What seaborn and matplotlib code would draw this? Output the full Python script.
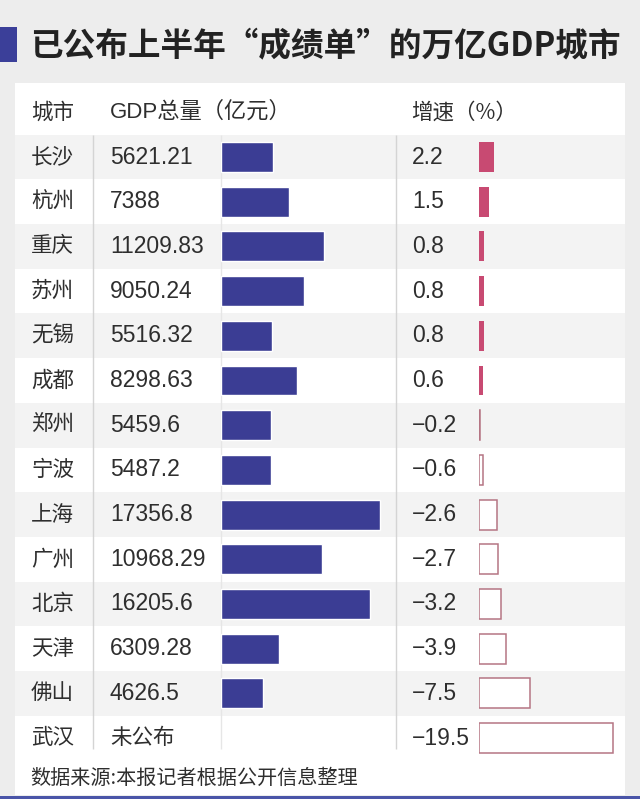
import numpy as np
import pandas as pd
import matplotlib
matplotlib.use("Agg")
import matplotlib.pyplot as plt
import seaborn as sns
from matplotlib.patches import Rectangle

cities = ["长沙", "杭州", "重庆", "苏州", "无锡", "成都", "郑州", "宁波",
          "上海", "广州", "北京", "天津", "佛山", "武汉"]
gdp = [5621.21, 7388, 11209.83, 9050.24, 5516.32, 8298.63, 5459.6, 5487.2,
       17356.8, 10968.29, 16205.6, 6309.28, 4626.5, np.nan]
gdp_text = ["5621.21", "7388", "11209.83", "9050.24", "5516.32", "8298.63",
            "5459.6", "5487.2", "17356.8", "10968.29", "16205.6", "6309.28",
            "4626.5", "未公布"]
growth = [2.2, 1.5, 0.8, 0.8, 0.8, 0.6, -0.2, -0.6, -2.6, -2.7, -3.2, -3.9,
          -7.5, -19.5]

title = "已公布上半年“成绩单”的万亿GDP城市"
header = ["城市", "GDP总量（亿元）", "增速（%）"]
source = "数据来源:本报记者根据公开信息整理"

BLUE = "#3b3d94"
PINK = "#c84a72"
EDGE = "#b57584"
TXT = "#2e2e2e"

W, H = 640, 799
sns.set_theme(style="white")
CJK = ["Noto Sans CJK SC", "DejaVu Sans"]
LAT = ["Liberation Sans", "Noto Sans CJK SC", "DejaVu Sans"]
plt.rcParams["font.family"] = CJK

fig = plt.figure(figsize=(6.4, 7.99), dpi=100, facecolor="#ededed")


def box(x0, y0, x1, y1):
    return [x0 / W, 1 - y1 / H, (x1 - x0) / W, (y1 - y0) / H]


# white card
fig.patches.append(Rectangle((15 / W, 1 - 795 / H), 610 / W, (795 - 83) / H,
                             transform=fig.transFigure, facecolor="white",
                             edgecolor="none", zorder=-1))
# title accent block
fig.patches.append(Rectangle((0, 1 - 62 / H), 17 / W, 35 / H,
                             transform=fig.transFigure, facecolor="#3b3f99",
                             edgecolor="none", zorder=-1))
fig.text(30 / W, 1 - 47 / H, title, fontsize=23.5, fontweight="bold",
         color="#222222", va="center", ha="left", family=CJK)
# bottom line
fig.patches.append(Rectangle((0, 0), 1, 3 / H, transform=fig.transFigure,
                             facecolor="#4a55a8", edgecolor="none", zorder=-1))

row0, step = 157, 44.7
top = row0 - 1.5 * step
bot = row0 + 13.5 * step
n = len(cities)

ax_bg = fig.add_axes(box(15, top, 625, bot))
ax_bg.set_xlim(15, 625)
ax_bg.set_ylim(n - 0.5, -1.5)
ax_bg.axis("off")
for i in range(0, n, 2):
    ax_bg.axhspan(i - 0.5, i + 0.5, color="#f3f3f3", lw=0, zorder=0)
ax_bg.vlines([93, 396], -0.5, 13.25, color="#d4d4d4", lw=1, zorder=1)
ax_bg.vlines([221], -0.5, 13.25, color="#e6e6e6", lw=1, zorder=1)

fs = 15.5
fl = 16.5
ax_bg.text(31, -1, header[0], va="center", ha="left", fontsize=fs, color=TXT)
ax_bg.text(110, -1, header[1], va="center", ha="left", fontsize=fl - 0.5,
           color=TXT, family=LAT)
ax_bg.text(411, -1, header[2], va="center", ha="left", fontsize=fs, color=TXT)
for i in range(n):
    ax_bg.text(31, i, cities[i], va="center", ha="left", fontsize=fs, color=TXT)
    if np.isnan(gdp[i]):
        ax_bg.text(110, i, gdp_text[i], va="center", ha="left", fontsize=fs,
                   color=TXT)
    else:
        ax_bg.text(110, i, gdp_text[i], va="center", ha="left", fontsize=fl,
                   color=TXT, family=LAT)
    ax_bg.text(412, i, f"{growth[i]:.1f}".replace("-", "−"), va="center",
               ha="left", fontsize=fl, color=TXT, family=LAT)

df = pd.DataFrame({"city": cities, "gdp": gdp, "growth": growth,
                   "absg": np.abs(growth)})

ax_g = fig.add_axes(box(221, top, 391, bot))
sns.barplot(data=df, x="gdp", y="city", order=cities, orient="h",
            color=BLUE, saturation=1, width=0.67, errorbar=None, ax=ax_g)
ax_g.set_xlim(0, 18540)
ax_g.set_ylim(n - 0.5, -1.5)
ax_g.axis("off")

ax_r = fig.add_axes(box(479, top, 619, bot))
sns.barplot(data=df, x="absg", y="city", order=cities, orient="h",
            color=PINK, saturation=1, width=0.67, errorbar=None, ax=ax_r)
for p, v in zip(ax_r.patches, growth):
    if v < 0:
        p.set_facecolor("white")
        p.set_edgecolor(EDGE)
        p.set_linewidth(1.1)
    else:
        p.set_facecolor(PINK)
        p.set_edgecolor("none")
ax_r.set_xlim(0, 20.41)
ax_r.set_ylim(n - 0.5, -1.5)
ax_r.axis("off")

fig.text(30 / W, 1 - 778 / H, source, fontsize=14.5, color=TXT, va="center",
         ha="left")

fig.savefig("out.png", dpi=100, facecolor=fig.get_facecolor())
